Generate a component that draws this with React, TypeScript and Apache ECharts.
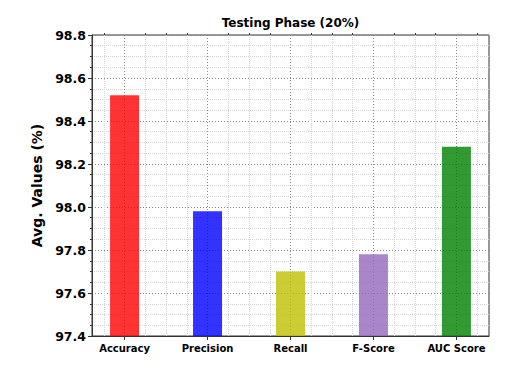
import React, { useEffect, useRef } from "react";
import * as echarts from "echarts";

const categories = ["Accuracy", "Precision", "Recall", "F-Score", "AUC Score"];
const values = [98.52, 97.98, 97.7, 97.78, 98.28];
const barColors = ["#ff0000", "#0000ff", "#bfbf00", "#9467bd", "#008000"];
const yTicks = [97.4, 97.6, 97.8, 98.0, 98.2, 98.4, 98.6, 98.8];
const title = "Testing Phase (20%)";
const yName = "Avg. Values (%)";

const FONT = "DejaVu Sans";

export default function App() {
  const ref = useRef<HTMLDivElement>(null);
  useEffect(() => {
    if (!ref.current) return;
    const chart = echarts.init(ref.current, null, { renderer: "svg" });
    const barW = 0.35;
    const n = categories.length;
    const pad = barW / 2 + 0.05 * (n - 1 + barW);
    const xMin = -pad;
    const xMax = n - 1 + pad;
    const majorX = categories.map((_, i) => i);
    const minorX: number[] = [];
    for (let v = -1; v <= n; v += 0.25) {
      if (v > xMin && v < xMax && Math.abs(v - Math.round(v)) > 1e-9) minorX.push(v);
    }
    const yMin = yTicks[0];
    const yMax = yTicks[yTicks.length - 1];

    chart.setOption({
      animation: false,
      backgroundColor: "#ffffff",
      grid: {
        left: 92,
        right: 29,
        top: 35,
        bottom: 34,
        show: true,
        borderColor: "#333",
        borderWidth: 1,
        backgroundColor: "transparent",
      },
      graphic: [
        {
          type: "text",
          x: 290.5,
          y: 23,
          style: {
            text: title,
            font: `bold 12px "${FONT}"`,
            fill: "#000",
            textAlign: "center",
            textVerticalAlign: "middle",
          },
        },
      ],
      xAxis: [
        {
          type: "value",
          min: xMin,
          max: xMax,
          axisLine: { show: true, onZero: false, lineStyle: { color: "#333", width: 1 } },
          axisTick: {
            show: true,
            customValues: majorX,
            length: 4,
            lineStyle: { color: "#333" },
          },
          axisLabel: {
            show: true,
            customValues: majorX,
            formatter: (v: number) => categories[Math.round(v)] ?? "",
            fontFamily: FONT,
            fontWeight: "bold",
            fontSize: 10,
            color: "#000",
            margin: 7,
          },
          splitLine: {
            show: true,
            lineStyle: { color: "#888", type: [1, 2], width: 1 },
          },
        },
        {
          type: "value",
          min: xMin,
          max: xMax,
          axisLine: { show: false, onZero: false },
          axisTick: {
            show: true,
            customValues: minorX,
            length: 2,
            lineStyle: { color: "#333" },
          },
          axisLabel: { show: false },
          splitLine: {
            show: true,
            lineStyle: { color: "#d4d4d4", type: [1, 1], width: 1 },
          },
        },
      ],
      yAxis: {
        type: "value",
        min: yMin,
        max: yMax,
        interval: 0.2,
        name: yName,
        nameLocation: "middle",
        nameGap: 44,
        nameRotate: 90,
        nameTextStyle: {
          fontFamily: FONT,
          fontWeight: "bold",
          fontSize: 14,
          color: "#000",
        },
        axisLine: { show: true, onZero: false, lineStyle: { color: "#333", width: 1 } },
        axisTick: { show: true, length: 4, lineStyle: { color: "#333" } },
        minorTick: {
          show: true,
          splitNumber: 4,
          length: 2,
          lineStyle: { color: "#333" },
        },
        axisLabel: {
          formatter: (v: number) => v.toFixed(1),
          fontFamily: FONT,
          fontWeight: "bold",
          fontSize: 12.5,
          color: "#000",
          margin: 6,
        },
        splitLine: {
          show: true,
          lineStyle: { color: "#888", type: [1, 2], width: 1 },
        },
        minorSplitLine: {
          show: true,
          lineStyle: { color: "#d4d4d4", type: [1, 1], width: 1 },
        },
      },
      series: [
        {
          type: "bar",
          xAxisIndex: 0,
          barWidth: 29,
          data: values.map((v, i) => ({
            value: [i, v],
            itemStyle: { color: barColors[i], opacity: 0.8 },
          })),
        },
      ],
    });
    return () => chart.dispose();
  }, []);
  return (
    <div
      ref={ref}
      style={{ position: "fixed", left: 0, top: 0, width: 518, height: 370 }}
    />
  );
}
